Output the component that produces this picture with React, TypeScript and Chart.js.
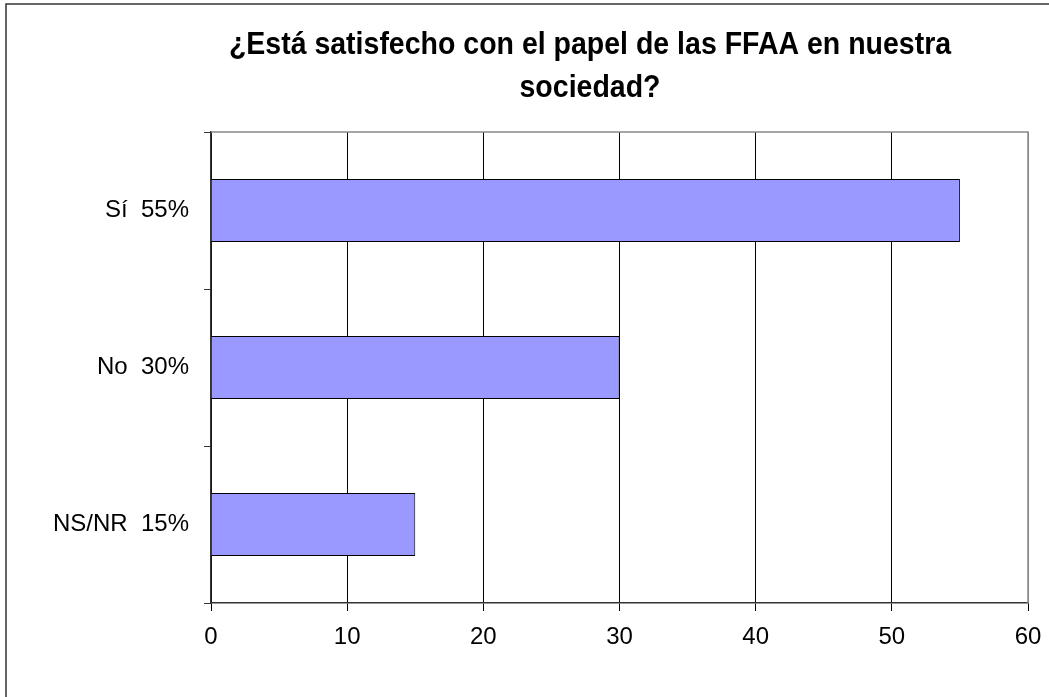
import React, { useEffect, useRef } from "react";
import { Chart, registerables } from "chart.js";

Chart.register(...registerables);

const categories = ["Sí  55%", "No  30%", "NS/NR  15%"];
const values = [55, 30, 15];
const xTicks = [0, 10, 20, 30, 40, 50, 60];
const titleLines = ["¿Está satisfecho con el papel de las FFAA en nuestra", "sociedad?"];

const FONT = "'Liberation Sans', Arial, sans-serif";

const framePlugin = {
  id: "frame",
  beforeDraw(chart: any) {
    const ctx = chart.ctx;
    ctx.save();
    ctx.fillStyle = "#ffffff";
    ctx.fillRect(0, 0, chart.width, chart.height);
    ctx.strokeStyle = "#333333";
    ctx.lineWidth = 1.5;
    ctx.beginPath();
    ctx.moveTo(6, chart.height);
    ctx.lineTo(6, 4);
    ctx.lineTo(chart.width, 4);
    ctx.stroke();
    ctx.restore();
  },
  afterDraw(chart: any) {
    const ctx = chart.ctx;
    const a = chart.chartArea;
    ctx.save();
    ctx.strokeStyle = "#888888";
    ctx.lineWidth = 1.5;
    ctx.beginPath();
    ctx.moveTo(a.left, a.top);
    ctx.lineTo(a.right, a.top);
    ctx.lineTo(a.right, a.bottom);
    ctx.stroke();
    ctx.restore();
    ctx.save();
    ctx.fillStyle = "#000000";
    ctx.font = `bold 28.5px ${FONT}`;
    ctx.textAlign = "center";
    ctx.textBaseline = "alphabetic";
    titleLines.forEach((t, i) => {
      ctx.save();
      ctx.translate(590, 54 + i * 43);
      ctx.scale(1, 1.12);
      ctx.fillText(t, 0, 0);
      ctx.restore();
    });
    ctx.restore();
  },
};

export default function App() {
  const ref = useRef<HTMLCanvasElement>(null);
  useEffect(() => {
    const chart = new Chart(ref.current!, {
      type: "bar",
      data: {
        labels: categories,
        datasets: [
          {
            data: values,
            backgroundColor: "#9999FF",
            borderColor: "#000000",
            borderWidth: 1,
            barPercentage: 0.4,
            categoryPercentage: 1,
          },
        ],
      },
      options: {
        indexAxis: "y",
        animation: false,
        responsive: false,
        layout: { padding: { top: 132, right: 21, left: 0, bottom: 0 } },
        plugins: { legend: { display: false }, title: { display: false }, tooltip: { enabled: false } },
        scales: {
          x: {
            min: 0,
            max: 60,
            afterBuildTicks: (s: any) => {
              s.ticks = xTicks.map((v) => ({ value: v }));
            },
            afterFit: (s: any) => {
              s.height = 94;
              s.paddingRight = 0;
              s.paddingLeft = 0;
            },
            grid: {
              color: (c: any) => (c.tick && c.tick.value === 60 ? "#888888" : "#000000"),
              lineWidth: 1,
              tickLength: 8,
              tickColor: "#000000",
              drawOnChartArea: true,
            },
            border: { color: "#333333", width: 1.5 },
            ticks: { color: "#000000", font: { family: FONT, size: 24 }, padding: 12 },
          },
          y: {
            afterFit: (s: any) => {
              s.width = 211;
            },
            offset: true,
            grid: {
              offset: true,
              drawOnChartArea: false,
              tickLength: 7,
              color: "#333333",
            },
            border: { color: "#333333", width: 1.5 },
            ticks: { color: "#000000", font: { family: FONT, size: 24 }, padding: 15 },
          },
        },
      },
      plugins: [framePlugin],
    });
    return () => chart.destroy();
  }, []);
  return (
    <div style={{ position: "fixed", left: 0, top: 0, width: 1049, height: 697, background: "#fff" }}>
      <canvas ref={ref} width={1049} height={697} style={{ display: "block" }} />
    </div>
  );
}
